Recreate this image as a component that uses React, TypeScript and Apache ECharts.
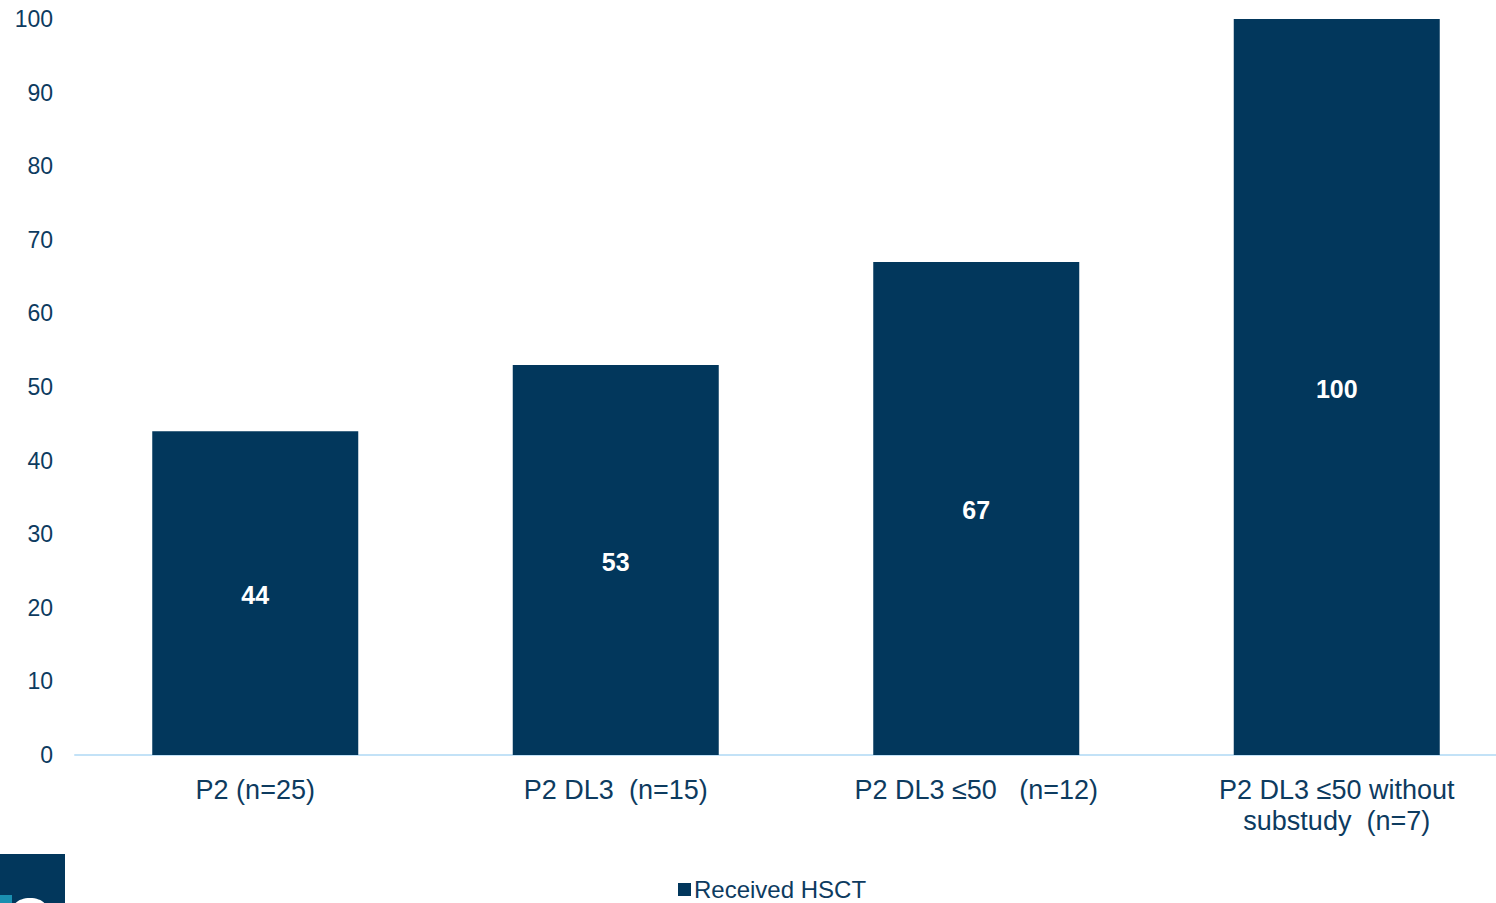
import React, { useEffect, useRef } from "react";
import * as echarts from "echarts";

const categories = [
  "P2 (n=25)",
  "P2 DL3  (n=15)",
  "P2 DL3 ≤50   (n=12)",
  "P2 DL3 ≤50 without\nsubstudy  (n=7)",
];
const receivedHSCT = [44, 53, 67, 100];
const seriesName = "Received HSCT";

const NAVY = "#02375c";
const TEXT = "#0d3b5f";

export default function App() {
  const ref = useRef<HTMLDivElement>(null);

  useEffect(() => {
    if (!ref.current) return;
    const chart = echarts.init(ref.current, undefined, { renderer: "svg" });
    chart.setOption({
      animation: false,
      textStyle: { fontFamily: "Liberation Sans, Arial, sans-serif" },
      grid: {
        left: 75,
        width: 1442,
        top: 19,
        bottom: 148,
        containLabel: false,
        outerBoundsMode: "none",
      },
      legend: {
        data: [seriesName],
        left: 678,
        top: 876,
        padding: 0,
        icon: "rect",
        itemWidth: 13,
        itemHeight: 13,
        itemGap: 6,
        textStyle: { color: TEXT, fontSize: 24, lineHeight: 24, padding: [3, 0, 0, -2] },
      },
      xAxis: {
        type: "category",
        data: categories,
        axisLine: { lineStyle: { color: "#c3e2f7", width: 2 } },
        axisTick: { show: false },
        axisLabel: {
          color: TEXT,
          fontSize: 27,
          lineHeight: 31,
          margin: 19,
          interval: 0,
        },
      },
      yAxis: {
        type: "value",
        min: 0,
        max: 100,
        interval: 10,
        axisLine: { show: false },
        axisTick: { show: false },
        splitLine: { show: false },
        axisLabel: { color: TEXT, fontSize: 23, margin: 22 },
      },
      series: [
        {
          name: seriesName,
          type: "bar",
          data: receivedHSCT,
          barWidth: 206,
          itemStyle: { color: NAVY },
          label: {
            show: true,
            position: "inside",
            color: "#ffffff",
            fontSize: 25,
            fontWeight: "bold",
            offset: [0, 2],
          },
        },
      ],
      graphic: [
        {
          type: "group",
          left: 0,
          top: 854,
          children: [
            { type: "rect", shape: { x: 0, y: 0, width: 65, height: 49 }, style: { fill: NAVY } },
            { type: "rect", shape: { x: 0, y: 41, width: 12, height: 8 }, style: { fill: "#1a8fb0" } },
            {
              type: "ellipse",
              shape: { cx: 30, cy: 53, rx: 16, ry: 9 },
              style: { fill: "#ffffff" },
            },
          ],
        },
      ],
    });
    return () => chart.dispose();
  }, []);

  return (
    <div
      ref={ref}
      style={{ position: "fixed", left: 0, top: 0, width: 1496, height: 903, background: "#fff" }}
    />
  );
}
